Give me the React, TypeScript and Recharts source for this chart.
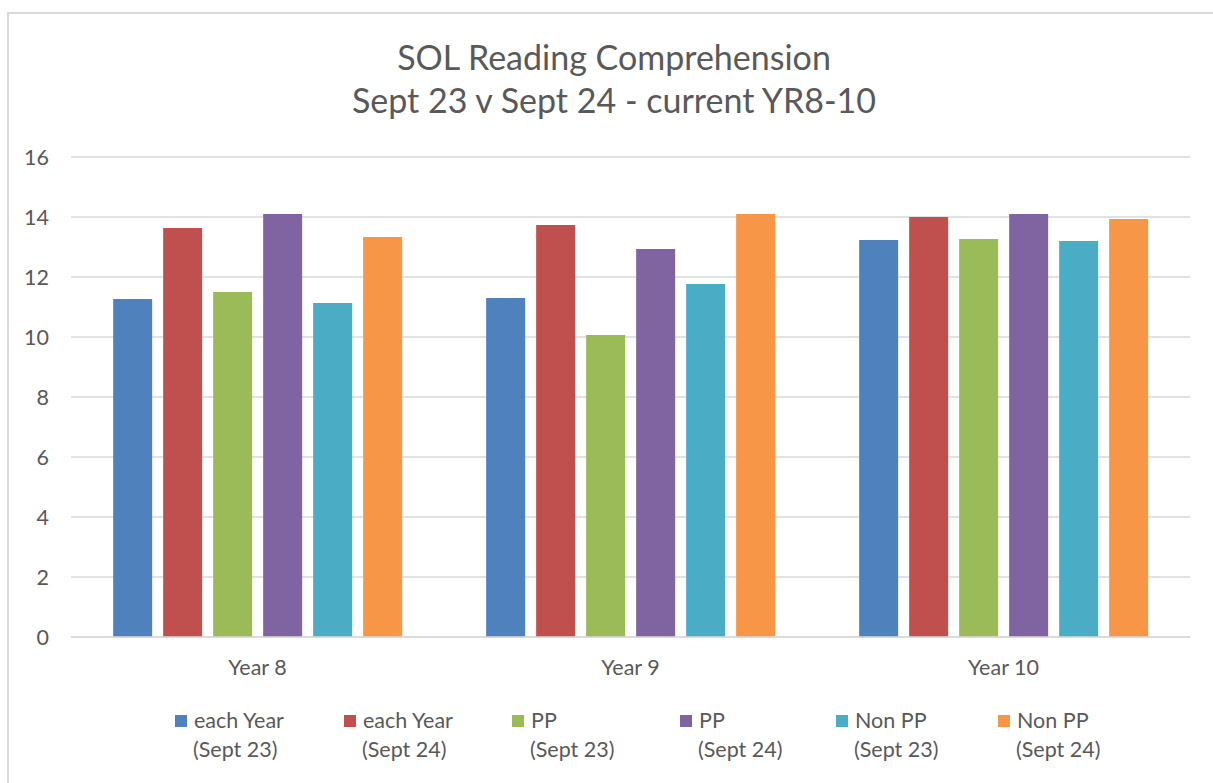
import { Bar, BarChart, CartesianGrid, XAxis, YAxis } from "recharts";

const categories = ["Year 8", "Year 9", "Year 10"];
const eachYear23 = [11.27, 11.3, 13.23];
const eachYear24 = [13.63, 13.73, 14.0];
const pp23 = [11.5, 10.07, 13.27];
const pp24 = [14.1, 12.93, 14.1];
const nonPp23 = [11.13, 11.77, 13.2];
const nonPp24 = [13.33, 14.1, 13.93];
const yTicks = [0, 2, 4, 6, 8, 10, 12, 14, 16];

const SERIES = [
  { key: "ey23", line1: "each Year", line2: "(Sept 23)", color: "#4F81BD", values: eachYear23 },
  { key: "ey24", line1: "each Year", line2: "(Sept 24)", color: "#C0504D", values: eachYear24 },
  { key: "pp23", line1: "PP", line2: "(Sept 23)", color: "#9BBB59", values: pp23 },
  { key: "pp24", line1: "PP", line2: "(Sept 24)", color: "#8064A2", values: pp24 },
  { key: "npp23", line1: "Non PP", line2: "(Sept 23)", color: "#4BACC6", values: nonPp23 },
  { key: "npp24", line1: "Non PP", line2: "(Sept 24)", color: "#F79646", values: nonPp24 },
];

const data = categories.map((name, i) => {
  const row: Record<string, string | number> = { name };
  SERIES.forEach((s) => {
    row[s.key] = s.values[i];
  });
  return row;
});

const FONT = "Lato, 'Open Sans', sans-serif";
const TEXT = "#595959";
const GRID = "#d9d9d9";
const LEGEND_LEFT = [175, 344, 512, 680, 836, 998];

function ChartLegend() {
  return (
    <div style={{ position: "absolute", left: 0, top: 706, width: 1213, height: 64, fontFamily: FONT, fontSize: 21.5, color: TEXT }}>
      {SERIES.map((s, i) => (
        <div key={s.key} style={{ position: "absolute", left: LEGEND_LEFT[i], top: 0, lineHeight: "29px", whiteSpace: "nowrap" }}>
          <div style={{ display: "flex", alignItems: "center" }}>
            <span style={{ width: 12, height: 12, background: s.color, marginRight: 7, display: "inline-block" }} />
            <span>{s.line1}</span>
          </div>
          <div style={{ paddingLeft: 18 }}>{s.line2}</div>
        </div>
      ))}
    </div>
  );
}

export default function App() {
  return (
    <div style={{ position: "absolute", left: 0, top: 0, width: 1213, height: 783, background: "#fff", overflow: "hidden" }}>
      <div
        style={{
          position: "absolute",
          left: 7,
          top: 12,
          width: 1230,
          height: 800,
          border: `2px solid ${GRID}`,
        }}
      />
      <div
        style={{
          position: "absolute",
          left: 0,
          top: 35,
          width: 1228,
          textAlign: "center",
          fontFamily: FONT,
          fontSize: 34,
          lineHeight: "43px",
          color: TEXT,
        }}
      >
        <div>SOL Reading Comprehension</div>
        <div>Sept 23 v Sept 24 - current YR8-10</div>
      </div>
      <div style={{ position: "absolute", left: 0, top: 0 }}>
        <BarChart
          width={1213}
          height={783}
          data={data}
          margin={{ top: 157, right: 23, left: 2, bottom: 0 }}
          barCategoryGap="11.3%"
          barGap={11}
        >
          <CartesianGrid vertical={false} stroke={GRID} strokeWidth={1.5} />
          <XAxis
            dataKey="name"
            height={146}
            axisLine={{ stroke: GRID, strokeWidth: 1.5 }}
            tickLine={false}
            tickMargin={17}
            tick={{ fontSize: 21.5, fill: TEXT, fontFamily: FONT }}
          />
          <YAxis
            width={69}
            domain={[0, 16]}
            ticks={yTicks}
            axisLine={false}
            tickLine={false}
            tickMargin={16}
            tick={{ fontSize: 21.5, fill: TEXT, fontFamily: FONT }}
          />
          {SERIES.map((s) => (
            <Bar key={s.key} dataKey={s.key} fill={s.color} isAnimationActive={false} />
          ))}
        </BarChart>
      </div>
      <ChartLegend />
    </div>
  );
}
